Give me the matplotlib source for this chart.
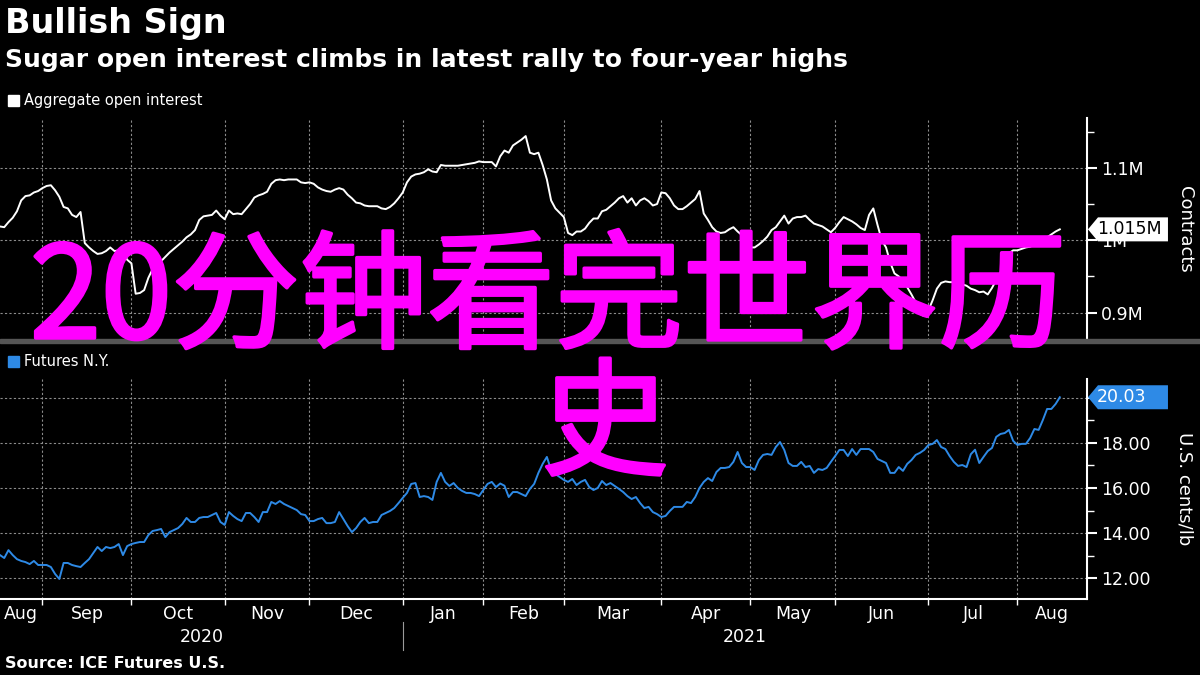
import numpy as np
import matplotlib.pyplot as plt
import matplotlib.patheffects as pe
from matplotlib.patches import Rectangle, Polygon
from matplotlib.transforms import blended_transform_factory

plt.rcParams['font.family'] = ['DejaVu Sans']

# trading-day axis (ICE/NYSE calendar), first point on 2020-08-18
start_day = '2020-08-18'
holidays = ['2020-09-07', '2020-11-26', '2020-12-25', '2021-01-01', '2021-01-18',
            '2021-02-15', '2021-04-02', '2021-05-31', '2021-07-05']
month_starts = ['2020-09-01', '2020-10-01', '2020-11-01', '2020-12-01', '2021-01-01',
                '2021-02-01', '2021-03-01', '2021-04-01', '2021-05-01', '2021-06-01',
                '2021-07-01', '2021-08-01']
month_names = ['Aug', 'Sep', 'Oct', 'Nov', 'Dec', 'Jan', 'Feb', 'Mar', 'Apr', 'May',
               'Jun', 'Jul', 'Aug']
years = ['2020', '2021']

# aggregate open interest, thousand contracts
open_interest = [
    1019, 1018, 1025, 1031, 1040, 1055, 1061, 1062, 1066, 1068,
    1072, 1075, 1076, 1069, 1060, 1046, 1044, 1035, 1032, 1039,
    996, 990, 985, 981, 982, 985, 990, 985, 986, 985,
    973, 968, 926, 927, 931, 948, 960, 967, 971, 977,
    983, 988, 993, 998, 1004, 1008, 1014, 1028, 1033, 1034,
    1035, 1041, 1034, 1029, 1041, 1036, 1037, 1036, 1043, 1050,
    1059, 1062, 1064, 1067, 1078, 1083, 1084, 1083, 1084, 1084,
    1084, 1080, 1079, 1080, 1078, 1073, 1070, 1068, 1067, 1070,
    1072, 1070, 1063, 1058, 1052, 1051, 1048, 1047, 1047, 1047,
    1044, 1043, 1046, 1051, 1058, 1066, 1080, 1088, 1091, 1092,
    1094, 1098, 1095, 1094, 1104, 1103, 1103, 1103, 1103, 1104,
    1105, 1106, 1107, 1109, 1108, 1108, 1108, 1102, 1116, 1124,
    1121, 1131, 1135, 1139, 1144, 1121, 1119, 1121, 1104, 1084,
    1055, 1044, 1038, 1032, 1010, 1007, 1012, 1012, 1016, 1024,
    1030, 1030, 1040, 1042, 1047, 1052, 1058, 1061, 1052, 1058,
    1048, 1055, 1058, 1054, 1048, 1050, 1066, 1065, 1058, 1048,
    1043, 1043, 1047, 1052, 1057, 1068, 1037, 1028, 1018, 1012,
    1010, 1011, 1015, 1018, 1012, 1007, 995, 990, 990, 994,
    999, 1005, 1014, 1018, 1026, 1034, 1023, 1030, 1032, 1032,
    1034, 1028, 1023, 1021, 1019, 1015, 1011, 1017, 1025, 1032,
    1029, 1026, 1022, 1017, 1014, 1035, 1044, 1021, 1000, 990,
    969, 954, 950, 944, 935, 925, 914, 898, 895, 903,
    917, 933, 941, 943, 942, 942, 942, 939, 937, 933,
    931, 928, 929, 925, 934, 945, 955, 970, 982, 986,
    986, 988, 990, 991, 994, 997, 1000, 1004, 1008, 1012,
    1015]

# sugar No.11 futures N.Y., US cents/lb
futures_ny = [
    13.02, 12.89, 13.24, 13.02, 12.84, 12.76, 12.71, 12.62, 12.76, 12.58,
    12.58, 12.58, 12.49, 12.18, 11.96, 12.67, 12.67, 12.58, 12.53, 12.49,
    12.67, 12.84, 13.11, 13.38, 13.20, 13.38, 13.33, 13.38, 13.51, 13.02,
    13.42, 13.51, 13.56, 13.60, 13.60, 13.91, 14.09, 14.13, 14.18, 13.82,
    14.04, 14.13, 14.22, 14.40, 14.67, 14.49, 14.49, 14.67, 14.71, 14.71,
    14.80, 14.89, 14.49, 14.36, 14.93, 14.76, 14.62, 14.53, 14.89, 14.89,
    14.71, 14.49, 14.93, 14.93, 15.38, 15.29, 15.42, 15.29, 15.20, 15.11,
    15.02, 14.84, 14.80, 14.53, 14.53, 14.62, 14.67, 14.44, 14.44, 14.49,
    14.93, 14.62, 14.31, 14.04, 14.22, 14.49, 14.67, 14.44, 14.49, 14.49,
    14.80, 14.89, 14.98, 15.11, 15.33, 15.56, 15.78, 16.18, 16.22, 15.60,
    15.64, 15.60, 15.47, 16.27, 16.67, 16.27, 16.09, 16.22, 16.00, 15.87,
    15.78, 15.78, 15.73, 15.64, 15.91, 16.18, 16.27, 16.04, 16.20, 16.10,
    15.60, 15.82, 15.82, 15.73, 15.64, 15.96, 16.18, 16.67, 17.07, 17.38,
    16.80, 16.62, 16.49, 16.36, 16.27, 16.40, 16.13, 16.27, 16.36, 16.04,
    15.91, 16.00, 16.31, 16.13, 16.22, 16.09, 15.96, 15.82, 15.64, 15.51,
    15.60, 15.33, 15.11, 15.16, 14.93, 14.84, 14.71, 14.76, 14.98, 15.16,
    15.16, 15.16, 15.38, 15.33, 15.60, 16.00, 16.27, 16.44, 16.31, 16.71,
    16.89, 16.89, 16.93, 17.16, 17.60, 17.11, 16.93, 16.93, 16.80, 17.24,
    17.47, 17.51, 17.47, 17.82, 18.04, 17.69, 17.11, 16.98, 16.98, 17.16,
    16.93, 16.98, 16.67, 16.84, 16.80, 16.89, 17.16, 17.42, 17.69, 17.69,
    17.42, 17.73, 17.47, 17.73, 17.73, 17.73, 17.60, 17.29, 17.20, 17.11,
    16.67, 16.67, 16.93, 16.76, 17.07, 17.24, 17.47, 17.56, 17.69, 17.91,
    17.96, 18.13, 17.82, 17.73, 17.42, 17.16, 16.98, 17.02, 16.93, 17.50,
    17.70, 17.11, 17.38, 17.64, 17.78, 18.27, 18.40, 18.44, 18.58, 18.09,
    17.91, 17.96, 17.96, 18.22, 18.62, 18.58, 19.02, 19.51, 19.51, 19.73,
    20.03]

WHITE = 'white'
BLUE = '#2E8AE6'
GRID = '#8c8c8c'
MAGENTA = '#FF00FF'

fig = plt.figure(figsize=(12, 6.75), dpi=100, facecolor='black')
ax1 = fig.add_axes([0, 0.4963, 0.9058, 0.3289])
ax2 = fig.add_axes([0, 0.1126, 0.9058, 0.3259])

bounds = np.busday_count(start_day, month_starts, holidays=holidays)
xmax = 256.4

for ax in (ax1, ax2):
    ax.set_facecolor('black')
    for s in ('left', 'top', 'bottom'):
        ax.spines[s].set_visible(False)
    ax.spines['right'].set_color(WHITE)
    ax.spines['right'].set_linewidth(1.5)
    ax.yaxis.tick_right()
    ax.tick_params(axis='y', which='major', colors=WHITE, labelsize=12.5, length=7, width=1.5, pad=3)
    ax.tick_params(axis='y', which='minor', colors=WHITE, length=5, width=1)
    ax.set_xlim(0, xmax)
    ax.set_xticks(bounds)
    ax.grid(True, which='major', color=GRID, ls=(0, (2, 2)), lw=0.8)
    ax.set_axisbelow(True)

ax1.plot(np.arange(len(open_interest)), open_interest, color=WHITE, lw=1.4)
ax1.set_ylim(862, 1169)
ax1.set_yticks([900, 1000, 1100])
ax1.set_yticklabels(['0.9M', '1M', '1.1M'])
ax1.set_yticks([950, 1050, 1150], minor=True)
ax1.tick_params(axis='x', length=0, labelbottom=False)

ax2.plot(np.arange(len(futures_ny)), futures_ny, color=BLUE, lw=1.4)
ax2.set_ylim(11.07, 20.84)
ax2.set_yticks([12, 14, 16, 18, 20])
ax2.set_yticklabels(['12.00', '14.00', '16.00', '18.00', ''])
ax2.set_yticks([13, 15, 17, 19], minor=True)
ax2.spines['bottom'].set_visible(True)
ax2.spines['bottom'].set_color(WHITE)
ax2.spines['bottom'].set_linewidth(1.5)
ax2.tick_params(axis='x', colors=WHITE, length=4, width=1, labelbottom=False)

# month and year labels
tr = blended_transform_factory(ax2.transData, fig.transFigure)
edges = [0] + list(bounds) + [xmax]
for i, name in enumerate(month_names):
    ax2.text((edges[i] + edges[i + 1]) / 2, 1 - 614 / 675, name, transform=tr, color=WHITE,
             fontsize=12.5, ha='center', va='center', clip_on=False)
jan = bounds[4]
ax2.text(jan / 2, 1 - 637 / 675, years[0], transform=tr, color=WHITE, fontsize=12.5,
         ha='center', va='center')
ax2.text((jan + xmax) / 2, 1 - 637 / 675, years[1], transform=tr, color=WHITE, fontsize=12.5,
         ha='center', va='center')
ax2.plot([jan, jan], [1 - 622 / 675, 1 - 650 / 675], transform=tr, color='#9a9a9a', lw=0.8,
         clip_on=False)

# axis titles
fig.text(1185 / 1200, 1 - 229 / 675, 'Contracts', color=WHITE, fontsize=13, rotation=270,
         ha='center', va='center')
fig.text(1185 / 1200, 1 - 489 / 675, 'U.S. cents/lb', color=WHITE, fontsize=13, rotation=270,
         ha='center', va='center')


# last-value tags
def value_tag(ax, value, label, face, txt):
    fig.canvas.draw()
    yc = ax.transData.transform((0, value))[1]
    x0 = ax.get_position().x1 * 1200
    pts = [(x0 + 1, yc), (x0 + 11, yc - 12), (x0 + 81, yc - 12), (x0 + 81, yc + 12), (x0 + 11, yc + 12)]
    fig.add_artist(Polygon(pts, closed=True, transform=None, facecolor=face, edgecolor='none', zorder=5))
    fig.text(x0 + 10, yc, label, transform=None, color=txt, fontsize=12.5, ha='left',
             va='center', zorder=6)


value_tag(ax1, open_interest[-1], '1.015M', WHITE, 'black')
value_tag(ax2, futures_ny[-1], '20.03', BLUE, WHITE)

# separator between panels
fig.add_artist(Rectangle((0, 1 - 343 / 675), 1, 4 / 675, transform=fig.transFigure,
                         color='#555555', zorder=4))

# titles and legend
fig.text(5 / 1200, 1 - 24 / 675, 'Bullish Sign', color=WHITE, fontsize=24, fontweight='bold',
         ha='left', va='center')
fig.text(5 / 1200, 1 - 60 / 675, 'Sugar open interest climbs in latest rally to four-year highs',
         color=WHITE, fontsize=18, fontweight='bold', ha='left', va='center')
fig.add_artist(Rectangle((8 / 1200, 1 - 106 / 675), 11 / 1200, 11 / 675,
                         transform=fig.transFigure, color=WHITE))
fig.text(24 / 1200, 1 - 100 / 675, 'Aggregate open interest', color=WHITE, fontsize=10.5,
         ha='left', va='center')
fig.add_artist(Rectangle((8 / 1200, 1 - 367 / 675), 11 / 1200, 11 / 675,
                         transform=fig.transFigure, color=BLUE))
fig.text(24 / 1200, 1 - 361 / 675, 'Futures N.Y.', color=WHITE, fontsize=10.5,
         ha='left', va='center')
fig.text(5 / 1200, 1 - 663 / 675, 'Source: ICE Futures U.S.', color=WHITE, fontsize=11.5,
         fontweight='bold', ha='left', va='center')

# overlay text (regular weight thickened slightly with a same-colour stroke)
thick = [pe.withStroke(linewidth=2.5, foreground=MAGENTA)]
fig.text(30 / 1200, 1 - 302 / 675, '20分钟看完世界历', color=MAGENTA, fontsize=92,
         family=['Noto Sans CJK SC', 'DejaVu Sans'], ha='left', va='center', zorder=10,
         path_effects=thick)
fig.text(605 / 1200, 1 - 429 / 675, '史', color=MAGENTA, fontsize=92,
         family=['Noto Sans CJK SC', 'DejaVu Sans'], ha='center', va='center', zorder=10,
         path_effects=thick)

fig.savefig('out.png', dpi=100, facecolor='black')
